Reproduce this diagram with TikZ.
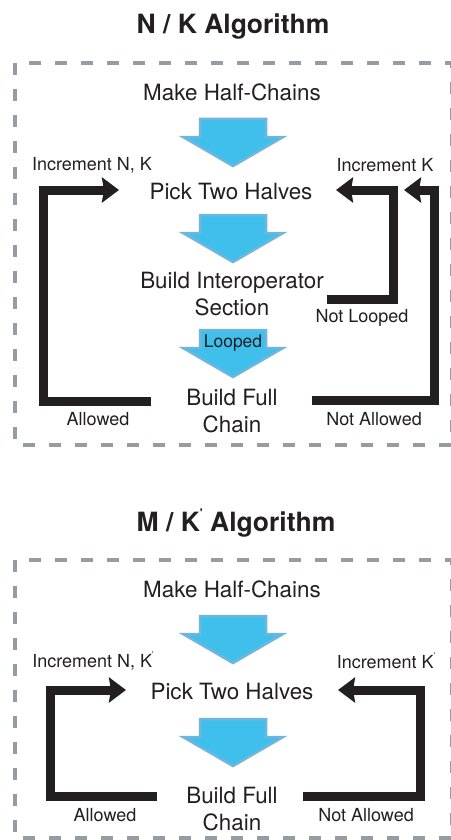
\documentclass[tikz,border=0pt]{standalone}
\usepackage{fontspec}
\setmainfont{TeX Gyre Heros}
\usetikzlibrary{arrows.meta}
\definecolor{ink}{HTML}{231F20}
\definecolor{framegray}{HTML}{969CA1}
\definecolor{flowfill}{HTML}{3FC0EC}
\definecolor{flowedge}{HTML}{70B5DD}
\tikzset{
  stagetext/.style={inner sep=0pt, text=ink, align=center, font=\fontsize{22.4}{27}\selectfont},
  looptext/.style={inner sep=0pt, text=ink, font=\fontsize{18}{21}\selectfont},
  titletext/.style={inner sep=0pt, text=ink, font=\fontsize{26.5}{30}\selectfont\bfseries},
  frame/.style={draw=framegray, line width=4.5pt, dash pattern=on 12pt off 14pt},
  loopline/.style={draw=ink, line width=9pt, line join=miter,
    -{Stealth[length=17pt, width=25pt, inset=2pt]}},
  downarrow/.pic={
    \draw[fill=flowfill, draw=flowedge, line width=2.5pt, line join=miter]
      (-33,1) -- (33,1) -- (33,19) -- (50,19) -- (0,48) -- (-50,19) -- (-33,19) -- cycle;
  }
}
% K with a small raised prime
\newcommand{\kp}{K\raisebox{0.55em}{\scalebox{0.45}{\textquotesingle}}}
\begin{document}
\begin{tikzpicture}[x=1pt, y=-1pt]
\useasboundingbox (0,0) rectangle (450,840);

% ---------------- N / K algorithm ----------------
\node[titletext] (title1) at (233,27) {N / K Algorithm};
\draw[frame] (15,63) rectangle (452,445);

\node[stagetext] (make1) at (232,92) {Make Half-Chains};
\node[stagetext] (pick1) at (231,192) {Pick Two Halves};
\node[stagetext] (inter1) at (232,294) {Build Interoperator\\Section};
\node[stagetext] (full1) at (232,411) {Build Full\\Chain};

\pic at (233,118) {downarrow};
\pic at (233,214) {downarrow};
\pic at (233,329) {downarrow};
\node[looptext, font=\fontsize{17.5}{20}\selectfont] (looped) at (233,343) {Looped};

\node[looptext] (incNK1) at (92,165) {Increment N, K};
\node[looptext] (incK1) at (385,165) {Increment K};
\node[looptext] (notlooped) at (362,318) {Not Looped};
\node[looptext] (allowed1) at (98,419) {Allowed};
\node[looptext] (notallowed1) at (374,419) {Not Allowed};

\coordinate (a1s) at (151,401);
\coordinate (a1e) at (119,190);
\coordinate (n1s) at (327,299);
\coordinate (n1e) at (336,190);
\coordinate (m1s) at (312,400);
\coordinate (m1e) at (404,190);

\draw[loopline] (a1s) -- (43.5,401) -- (43.5,190) -- (a1e);
\draw[loopline] (n1s) -- (393,299) -- (393,190) -- (n1e);
\draw[loopline] (m1s) -- (434,400) -- (434,190) -- (m1e);

% ---------------- M / K' algorithm ----------------
\node[titletext] (title2) at (236,523) {M / \kp\ Algorithm};
\draw[frame] (15,560) rectangle (452,838);

\node[stagetext] (make2) at (232,589) {Make Half-Chains};
\node[stagetext] (pick2) at (232,691) {Pick Two Halves};
\node[stagetext] (full2) at (232,809) {Build Full\\Chain};

\pic at (233,615) {downarrow};
\pic at (233,718) {downarrow};

\node[looptext] (incNK2) at (93,661) {Increment N, \kp};
\node[looptext] (incK2) at (386,661) {Increment \kp};
\node[looptext] (allowed2) at (105,815) {Allowed};
\node[looptext] (notallowed2) at (366,815) {Not Allowed};

\coordinate (a2s) at (157,796);
\coordinate (a2e) at (126,690);
\coordinate (m2s) at (303,796);
\coordinate (m2e) at (338,690);

\draw[loopline] (a2s) -- (50,796) -- (50,690) -- (a2e);
\draw[loopline] (m2s) -- (420,796) -- (420,690) -- (m2e);
\end{tikzpicture}
\end{document}
